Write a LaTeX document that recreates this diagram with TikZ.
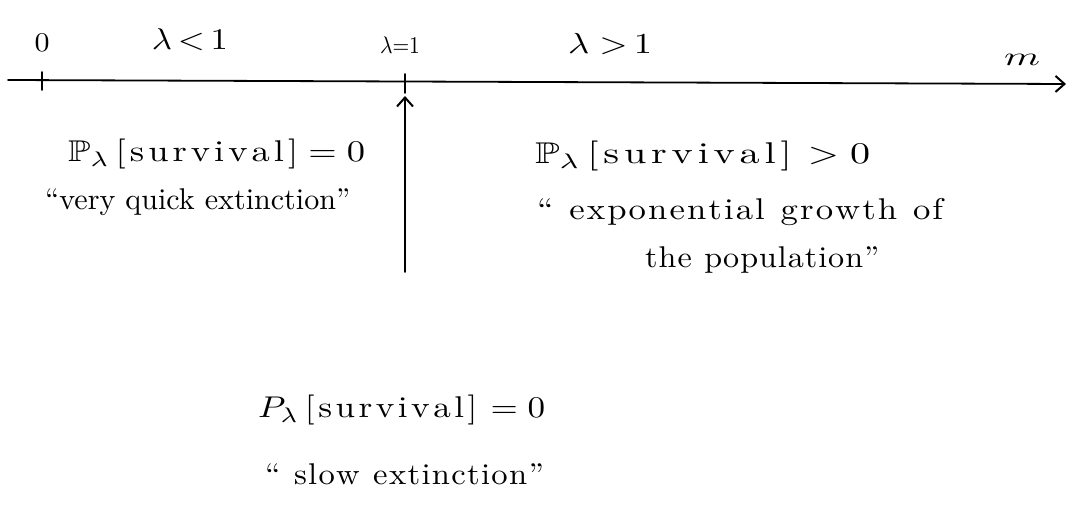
\documentclass[tikz,border=0pt]{standalone}
\usepackage{amsmath,amssymb}
\usepackage{graphicx}
\usetikzlibrary{arrows.meta}
\makeatletter
\def\ls@end{\ls@end}
\def\ls@loop#1{\ifx#1\ls@end\else#1\kern\ls@amt\relax\expandafter\ls@loop\fi}
\newcommand{\lsp}[2]{\def\ls@amt{#1}\ls@loop#2\ls@end}
\makeatother
\newsavebox{\hwbox}
% #1 target width (pt), #2 content (set at 3x)
\newcommand{\hw}[2]{\sbox{\hwbox}{\scalebox{3.0}{#2}}\resizebox{#1pt}{\ht\hwbox}{\usebox{\hwbox}}}
\newcommand{\ax}[3]{\sbox{\hwbox}{\scalebox{#2}{#3}}\resizebox{#1pt}{\ht\hwbox}{\usebox{\hwbox}}}
\begin{document}
\begin{tikzpicture}[x=1pt,y=-1pt,
  ink/.style={line width=1.8pt, black, line cap=round},
  tip/.style={-{Straight Barb[length=9pt,width=16pt,line width=2pt]}},
  lbl/.style={inner sep=0pt, anchor=base west},
  axlbl/.style={inner sep=0pt, anchor=base}]
\useasboundingbox (0,0) rectangle (1072,518);
% axis
\coordinate (axstart) at (8,80);
\coordinate (axend) at (1066,84);
\draw[ink,tip] (axstart) -- (axend);
% ticks
\coordinate (t0top) at (42,72);
\coordinate (t0bot) at (42,90);
\coordinate (t1top) at (405,74);
\coordinate (t1bot) at (405,93);
\draw[ink] (t0top) -- (t0bot);
\draw[ink] (t1top) -- (t1bot);
% axis labels
\node[axlbl] (zero) at (42,52) {\ax{15}{2.7}{$0$}};
\node[axlbl] (lless) at (190,50) {\ax{76}{3.0}{$\lambda\,{<}\,1$}};
\node[axlbl] (leq) at (400,54) {\ax{40}{2.4}{$\lambda{=}1$}};
\node[axlbl] (lgreat) at (610,54) {\ax{84}{2.9}{$\lambda\;{>}\,1$}};
\node[axlbl] (m) at (1022,66) {\ax{36}{2.6}{$m$}};
% vertical arrow
\coordinate (arrbot) at (405,272);
\coordinate (arrtop) at (405,96);
\draw[ink,tip] (arrbot) -- (arrtop);
% left region
\node[lbl] (left1) at (68,162) {\hw{297}{$\mathbb{P}_{\lambda}$\,\lsp{1.1pt}{[survival]}\,$=0$}};
\node[lbl] (left2) at (45,210) {\hw{305}{\textquotedblleft very quick extinction\textquotedblright}};
% right region
\node[lbl] (right1) at (535,164) {\hw{335}{$\mathbb{P}_{\lambda}$\,\lsp{1.2pt}{[survival]}\;$>0$}};
\node[lbl] (right2) at (537,220) {\hw{408}{\lsp{0.6pt}{\textquotedblleft~exponential~growth~of}}};
\node[lbl] (right3) at (645,268) {\hw{235}{\lsp{0.3pt}{the~population\textquotedblright}}};
% bottom
\node[lbl] (bot1) at (258,418) {\hw{287}{$P_{\lambda}$\,\lsp{1.0pt}{[survival]}\;$=0$}};
\node[lbl] (bot2) at (265,485) {\hw{280}{\lsp{0.4pt}{\textquotedblleft~slow~extinction\textquotedblright}}};
\end{tikzpicture}
\end{document}
